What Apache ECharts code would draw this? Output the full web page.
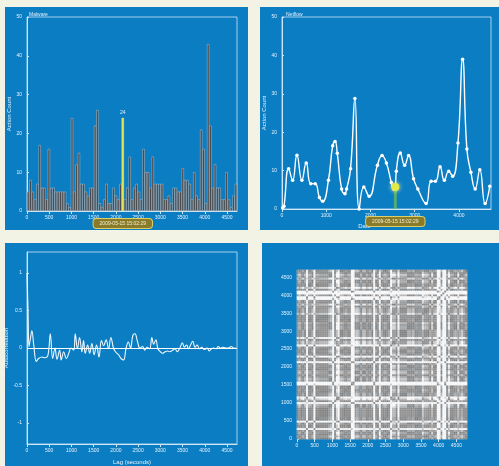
<!DOCTYPE html>
<html>
<head>
<meta charset="utf-8">
<script src="https://cdn.jsdelivr.net/npm/echarts@6/dist/echarts.min.js"></script>
<style>
  html, body { margin: 0; padding: 0; background: #f3f3e5; }
  #main { width: 499px; height: 466px; }
</style>
</head>
<body>
<div id="main"></div>
<script>
// action count per time bin (top left histogram)
const actionCounts = [
  5, 8, 5, 3, 7, 17, 6, 6, 3, 16, 6, 6, 5, 5, 5, 5, 5, 2, 1, 24,
  5, 12, 15, 7, 7, 5, 4, 6, 6, 22, 26, 2, 1, 3, 7, 2, 2, 6, 4, 3,
  7, 24, 3, 6, 14, 3, 6, 7, 5, 3, 16, 10, 10, 6, 14, 7, 7, 7, 7, 3,
  3, 4, 2, 6, 6, 5, 5, 11, 8, 8, 7, 3, 10, 4, 3, 21, 16, 2, 43, 22,
  6, 12, 6, 6, 3, 3, 10, 3, 1, 4, 7
];
const highlightBin = 41;
const highlightDate = '2009-05-15 15:02:29';

// smoothed activity curve (top right), [seconds, count]
const smoothPoints = [
  [15, 0.3], [45, 0.7], [150, 10.5], [240, 7.5], [337, 14], [450, 7.5],
  [547, 12], [652, 6.6], [750, 6.6], [846, 3], [920, 2], [1050, 7.5],
  [1146, 16.5], [1200, 17.6], [1250, 14.5], [1348, 5.2], [1423, 4],
  [1460, 5.2], [1550, 10.5], [1648, 28.8], [1745, 0], [1850, 5.7],
  [1970, 3.3], [2157, 11.4], [2262, 13.9], [2360, 12], [2472, 6.9],
  [2524, 5.2], [2562, 5.7], [2584, 9.8], [2674, 14.6], [2772, 11.4],
  [2862, 13.9], [2974, 7.9], [3071, 5.2], [3258, 1.4], [3371, 7.2],
  [3468, 7.2], [3573, 11], [3670, 7.5], [3768, 9.8], [3858, 8.5],
  [3978, 17.2], [4083, 39], [4180, 15.6], [4270, 9.6], [4367, 5.2],
  [4472, 10.2], [4592, 1.4], [4697, 5.9]
];
const pickedIndex = 28;

// autocorrelation, [lag seconds, r]
const acfPoints = [
  [0, 1.0], [25, 0.45], [45, 0.02], [75, 0.12], [110, 0.23], [150, 0.05],
  [210, -0.18], [260, -0.14], [340, -0.12], [400, -0.13], [470, -0.1],
  [525, 0.19], [577, -0.14], [630, 0.0], [675, -0.15], [735, -0.03],
  [770, -0.16], [825, -0.05], [885, -0.14], [940, -0.07], [990, 0.0],
  [1050, -0.03], [1086, 0.19], [1135, -0.01], [1183, 0.14], [1235, -0.05],
  [1273, 0.1], [1310, -0.07], [1365, 0.04], [1410, -0.07], [1460, 0.06],
  [1510, -0.09], [1565, 0.04], [1620, -0.12], [1675, 0.1], [1725, 0.03],
  [1780, 0.11], [1835, -0.01], [1887, 0.14], [1945, 0.0], [1990, -0.05],
  [2060, -0.09], [2115, -0.14], [2172, -0.16], [2230, 0.0], [2280, 0.08],
  [2330, 0.0], [2382, 0.17], [2430, 0.19], [2480, 0.1], [2540, 0.0],
  [2600, 0.02], [2650, -0.03], [2700, 0.01], [2760, -0.01], [2809, 0.14],
  [2850, 0.05], [2900, 0.11], [2945, -0.01], [3000, -0.05], [3050, -0.07],
  [3110, -0.05], [3160, -0.04], [3215, -0.05], [3275, -0.03], [3330, -0.01],
  [3380, -0.05], [3440, 0.0], [3497, 0.07], [3540, 0.01], [3590, 0.04],
  [3635, -0.01], [3680, 0.04], [3730, 0.09], [3780, 0.01], [3830, 0.04],
  [3880, -0.01], [3930, 0.01], [3990, -0.02], [4050, 0.0], [4100, -0.04],
  [4150, -0.01], [4200, 0.0], [4260, -0.01], [4300, 0.02], [4350, 0.0],
  [4400, 0.01], [4470, 0.0], [4530, 0.0], [4600, 0.02], [4650, 0.0], [4700, 0.0]
];

const timeTicks = [0, 500, 1000, 1500, 2000, 2500, 3000, 3500, 4000, 4500];
const dateTicks = [0, 1000, 2000, 3000, 4000];
const countTicks = [0, 10, 20, 30, 40, 50];
const acfTicks = [-1, -0.5, 0, 0.5, 1];

const txt = '#e4f1fb';
const axisCol = '#cde5f5';
const bins = actionCounts.map((_, i) => i);

// recurrence plot: distance between the action counts of two bins
const recurrence = [];
actionCounts.forEach((a, i) => {
  actionCounts.forEach((b, j) => {
    recurrence.push([i, j, Math.abs(a - b)]);
  });
});

const plain = v => String(v);

const pointerLabel = {
  show: true,
  formatter: () => highlightDate,
  backgroundColor: '#8a7b2a',
  borderColor: '#dccf68',
  borderWidth: 1,
  borderRadius: 3,
  padding: [2, 6],
  color: '#f3efd2',
  fontSize: 5,
  margin: 8
};

const valAxis = (grid, ticks, max, extra) => Object.assign({
  type: 'value', gridIndex: grid, min: 0, max: max,
  position: 'bottom',
  splitLine: { show: false },
  axisLine: { onZero: false, lineStyle: { color: axisCol, width: 1 } },
  axisTick: { customValues: ticks, length: 3, lineStyle: { color: axisCol } },
  axisLabel: { customValues: ticks, color: txt, fontSize: 5, margin: 4, formatter: plain },
  nameLocation: 'middle',
  nameTextStyle: { color: txt, fontSize: 6 }
}, extra || {});

const yAxisBase = (grid, ticks, min, max, name) => ({
  type: 'value', gridIndex: grid, min: min, max: max, position: 'left',
  name: name, nameLocation: 'middle', nameGap: 14,
  nameTextStyle: { color: txt, fontSize: 6 },
  splitLine: { show: false },
  axisLine: { show: true, onZero: false, lineStyle: { color: axisCol } },
  axisTick: { show: true, customValues: ticks, length: 2, inside: true, lineStyle: { color: axisCol } },
  axisLabel: { customValues: ticks, color: txt, fontSize: 5, margin: 5, formatter: plain }
});

const gridBox = { show: true, borderColor: 'rgba(205,229,245,0.8)', borderWidth: 1, backgroundColor: 'transparent' };

const chart = echarts.init(document.getElementById('main'));

chart.setOption({
  backgroundColor: '#f3f3e5',
  animation: false,
  graphic: [
    { type: 'rect', shape: { x: 5, y: 7, width: 243, height: 223 }, style: { fill: '#0b7dc3' }, z: -10 },
    { type: 'rect', shape: { x: 260, y: 7, width: 239, height: 223 }, style: { fill: '#0b7dc3' }, z: -10 },
    { type: 'rect', shape: { x: 5, y: 243, width: 243, height: 223 }, style: { fill: '#0b7dc3' }, z: -10 },
    { type: 'rect', shape: { x: 262, y: 243, width: 237, height: 223 }, style: { fill: '#0b7dc3' }, z: -10 }
  ],
  title: [
    { text: 'Malware', left: 24, top: 7, textStyle: { color: txt, fontSize: 5, fontWeight: 'normal' } },
    { text: 'Netflow', left: 281, top: 7, textStyle: { color: txt, fontSize: 5, fontWeight: 'normal' } }
  ],
  grid: [
    Object.assign({ left: 27, top: 17, width: 210, height: 194 }, gridBox),
    Object.assign({ left: 282, top: 17, width: 209, height: 192 }, gridBox),
    Object.assign({ left: 27, top: 252, width: 210, height: 194 }, gridBox),
    { left: 297, top: 270, width: 170, height: 169 }
  ],
  xAxis: [
    { type: 'category', gridIndex: 0, data: bins, show: false },
    valAxis(0, timeTicks, 4725, {
      axisPointer: {
        show: true, value: 2155, status: 'show', triggerTooltip: false,
        lineStyle: { opacity: 0 }, label: pointerLabel
      }
    }),
    valAxis(1, dateTicks, 4725, {
      name: 'Date', nameGap: 14,
      nameTextStyle: { color: txt, fontSize: 6, padding: [0, 44, 0, 0] },
      axisPointer: {
        show: true, value: smoothPoints[pickedIndex][0], status: 'show', triggerTooltip: false,
        lineStyle: { opacity: 0 }, label: pointerLabel
      }
    }),
    valAxis(2, timeTicks, 4725, { name: 'Lag (seconds)', nameGap: 15 }),
    { type: 'category', gridIndex: 3, data: bins, show: false },
    valAxis(3, timeTicks, 4800, { axisLine: { show: false } })
  ],
  yAxis: [
    yAxisBase(0, countTicks, 0, 50, 'Action Count'),
    yAxisBase(1, countTicks, 0, 50, 'Action Count'),
    yAxisBase(2, acfTicks, -1.28, 1.28, 'Autocorrelation'),
    { type: 'category', gridIndex: 3, data: bins, show: false },
    Object.assign(yAxisBase(3, timeTicks, 0, 4700, ''), { axisLine: { show: false } })
  ],
  visualMap: {
    show: false, seriesIndex: 4, min: 0, max: 9,
    inRange: { color: ['#7c7c7c', '#939393', '#c4c4c4', '#f8f8f8'] }
  },
  series: [
    {
      type: 'bar', xAxisIndex: 0, yAxisIndex: 0,
      barCategoryGap: '0%',
      itemStyle: { color: '#3d4045', borderColor: '#c3c6c9', borderWidth: 0.5 },
      data: actionCounts.map((v, i) => i === highlightBin ? {
        value: v,
        itemStyle: { color: '#e2e04a', borderColor: '#f2f08a' },
        label: { show: true, position: 'top', color: txt, fontSize: 5, distance: 3 }
      } : v)
    },
    {
      type: 'line', xAxisIndex: 2, yAxisIndex: 1,
      smooth: 0.5, symbol: 'circle', symbolSize: 3.5,
      lineStyle: { color: '#ffffff', width: 1.4 },
      itemStyle: { color: '#ffffff' },
      data: smoothPoints.map((p, i) => i === pickedIndex ? {
        value: p, symbolSize: 8,
        itemStyle: { color: '#e3ea4c', shadowBlur: 4, shadowColor: '#f4f79a' }
      } : p),
      z: 3
    },
    {
      type: 'bar', xAxisIndex: 2, yAxisIndex: 1, barWidth: 3,
      itemStyle: { color: 'rgba(120,200,70,0.65)' },
      data: [smoothPoints[pickedIndex]], z: 2
    },
    {
      type: 'line', xAxisIndex: 3, yAxisIndex: 2,
      smooth: 0.4, showSymbol: false,
      lineStyle: { color: '#f2f8fc', width: 1.1 },
      data: acfPoints,
      markLine: {
        silent: true, symbol: 'none', label: { show: false },
        lineStyle: { color: '#ffffff', width: 1, type: 'solid' },
        data: [{ yAxis: 0 }]
      }
    },
    {
      type: 'heatmap', xAxisIndex: 4, yAxisIndex: 3,
      itemStyle: { borderColor: 'rgba(255,255,255,0.4)', borderWidth: 0.3 },
      data: recurrence, emphasis: { disabled: true }
    }
  ]
});
</script>
</body>
</html>
